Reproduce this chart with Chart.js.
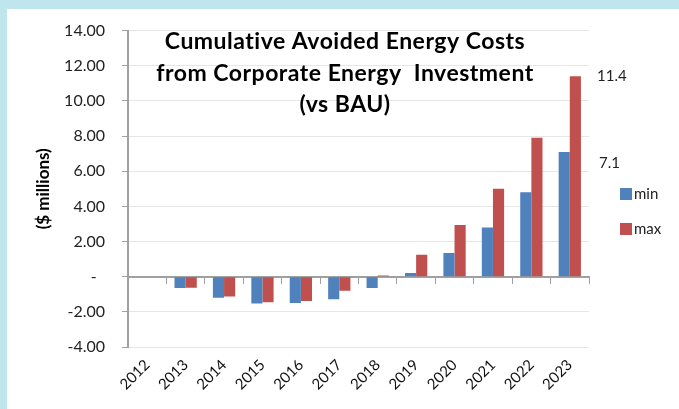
<!DOCTYPE html>
<html>
<head>
<meta charset="utf-8">
<script src="https://cdn.jsdelivr.net/npm/chart.js@4"></script>
<style>
  body { margin: 0; background: #bfe6ec; }
  #wrap { position: absolute; left: 7px; top: 9px; width: 672px; height: 400px; background: #ffffff; }
  #avoidedChart { position: absolute; left: 0; top: -5px; }
</style>
</head>
<body>
<div id="wrap"><canvas id="avoidedChart" width="672" height="405"></canvas></div>
<script>
const years = ["2012","2013","2014","2015","2016","2017","2018","2019","2020","2021","2022","2023"];
const minValues = [0, -0.65, -1.2, -1.53, -1.5, -1.29, -0.64, 0.21, 1.35, 2.8, 4.8, 7.1];
const maxValues = [0, -0.63, -1.13, -1.46, -1.38, -0.8, 0.07, 1.25, 2.94, 5.0, 7.9, 11.4];
const titleLines = ["Cumulative Avoided Energy Costs", "from Corporate Energy  Investment", "(vs BAU)"];

const blue = "#4f81bd";
const red = "#c0504d";
const axisGray = "#a0a0a0";
const fontFamily = "Lato, 'Open Sans', sans-serif";

// title, end labels and legend drawn over the chart
const extras = {
    id: "extras",
    afterDraw(chart){
        const ctx = chart.ctx;
        const area = chart.chartArea;
        const y = chart.scales.y;
        ctx.save();

        ctx.fillStyle = "#000";
        ctx.font = "bold 23px " + fontFamily;
        ctx.letterSpacing = "0.5px";
        ctx.textAlign = "center";
        ctx.textBaseline = "alphabetic";
        const baselines = [45, 77, 108];
        titleLines.forEach((line, i) => ctx.fillText(line, 338, baselines[i]));
        ctx.letterSpacing = "0px";

        // last values next to the 2023 bars
        ctx.font = "15px " + fontFamily;
        ctx.fillStyle = "#222";
        ctx.textAlign = "left";
        ctx.textBaseline = "middle";
        const last = years.length - 1;
        ctx.fillText(maxValues[last].toFixed(1), area.right + 8, y.getPixelForValue(maxValues[last]));
        ctx.fillText(minValues[last].toFixed(1), area.right + 10, y.getPixelForValue(minValues[last]) + 11);

        // legend
        const items = [["min", blue, 190], ["max", red, 225]];
        items.forEach(([label, color, cy]) => {
            ctx.fillStyle = color;
            ctx.fillRect(613, cy - 6, 12, 12);
            ctx.fillStyle = "#222";
            ctx.fillText(label, 627, cy);
        });

        ctx.restore();
    }
};

new Chart(document.getElementById("avoidedChart"),{

    type:"bar",

    data:{
        labels: years,
        datasets:[
            { label:"min", data:minValues, backgroundColor:blue },
            { label:"max", data:maxValues, backgroundColor:red }
        ]
    },

    options:{
        responsive:false,
        animation:false,
        categoryPercentage:0.58,
        barPercentage:1,
        layout:{ padding:{ left:22, top:11, right:90, bottom:0 } },
        plugins:{
            legend:{ display:false },
            tooltip:{ enabled:false }
        },
        scales:{
            x:{
                type:"category",
                position:{ y:0 },
                offset:true,
                ticks:{ display:false },
                grid:{ offset:true, drawOnChartArea:false, drawTicks:true, tickLength:6, color:axisGray },
                border:{ color:axisGray, width:2 }
            },
            x2:{
                type:"category",
                position:"bottom",
                offset:true,
                grid:{ display:false },
                border:{ display:false },
                ticks:{ minRotation:45, maxRotation:45, padding:1, color:"#111", font:{ family:fontFamily, size:15 } },
                afterFit(scale){ scale.height = 62; }
            },
            y:{
                min:-4,
                max:14,
                ticks:{
                    stepSize:2,
                    padding:17,
                    color:"#222",
                    font:{ family:fontFamily, size:16 },
                    callback:(v) => v === 0 ? "-  " : v.toFixed(2)
                },
                grid:{ color:"#e6e6e6", tickColor:axisGray, tickLength:6 },
                border:{ color:axisGray, width:2 },
                title:{ display:true, text:"($ millions)", color:"#000", font:{ family:fontFamily, size:17, weight:"bold" } },
                afterFit(scale){ scale.width = 99; }
            }
        }
    },

    plugins:[extras]

});
</script>
</body>
</html>
